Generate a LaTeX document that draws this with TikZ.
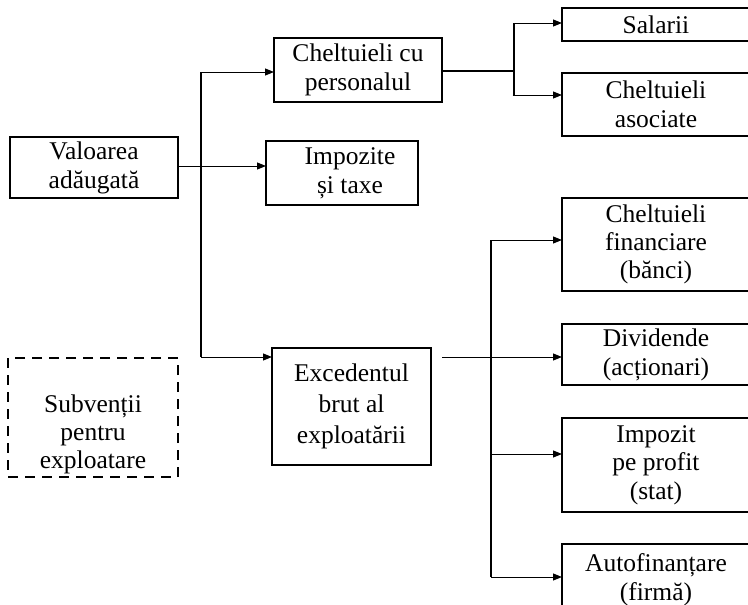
\documentclass[tikz,border=0pt]{standalone}
\usepackage{fontspec}
\setmainfont{Liberation Serif}
\usetikzlibrary{arrows.meta}
\begin{document}
\begin{tikzpicture}[x=1pt,y=-1pt,
  txt/.style={inner sep=0pt, outer sep=0pt, align=center, font=\fontsize{25.5}{29}\selectfont},
  box/.style={txt, draw, line width=1.8pt},
  dbox/.style={draw, line width=1.6pt, dash pattern=on 10pt off 7pt, inner sep=0pt, outer sep=0pt},
  conn/.style={line width=1pt},
  thick conn/.style={line width=1.6pt},
  arr/.style={line width=1pt, -{Triangle[length=9pt,width=7pt]}},
]
\useasboundingbox (0,0) rectangle (748,605);
\clip (0,0) rectangle (748,605);

% boxes
\node[box, minimum width=168pt, minimum height=61pt] (val) at (94,167.5) {Valoarea\\adăugată};
\node[box, minimum width=168pt, minimum height=64pt] (chp) at (358,70) {Cheltuieli cu\\personalul};
\node[box, minimum width=152pt, minimum height=64pt] (imp) at (342,173) {\hspace*{16pt}Impozite\\\hspace*{16pt}și taxe};
\node[box, minimum width=159pt, minimum height=117pt, font=\fontsize{25.5}{31}\selectfont] (exc) at (351.5,406.5) {Excedentul\\brut al\\exploatării};

\node[box, minimum width=188pt, minimum height=33pt] (sal) at (656,24.5) {Salarii};
\node[box, minimum width=188pt, minimum height=63pt] (asoc) at (656,104.5) {Cheltuieli\\asociate};
\node[box, minimum width=188pt, minimum height=93pt, font=\fontsize{25.5}{28}\selectfont] (fin) at (656,244.5) {Cheltuieli\\financiare\\(bănci)};
\node[box, minimum width=188pt, minimum height=61pt] (div) at (656,354.5) {Dividende\\(acționari)};
\node[box, minimum width=188pt, minimum height=94pt, font=\fontsize{25.5}{28.5}\selectfont] (ipp) at (656,465) {Impozit\\pe profit\\(stat)};
\node[box, minimum width=188pt, minimum height=72pt] (auto) at (656,580) {Autofinanțare\\(firmă)};

\node[dbox, minimum width=170pt, minimum height=119pt] (sub) at (93,417.5) {};
\node[txt, font=\fontsize{25.5}{28}\selectfont] (subt) at (93,434) {Subvenții\\pentru\\exploatare};

% connectors from Valoarea
\coordinate (v1) at (201,72);
\coordinate (v2) at (201,357);
\draw[thick conn] (v1) -- (v2);
\draw[arr] (v1) -- (v1 -| chp.west);
\draw[arr] (v2) -- (v2 -| exc.west);
\draw[arr] (val.east |- 0,166) -- (imp.west |- 0,166);

% personal branch
\coordinate (p1) at (514,23);
\coordinate (p2) at (514,95);
\draw[thick conn] (chp.east |- 0,71) -- (p1 |- 0,71);
\draw[thick conn] (p1) -- (p2);
\draw[arr] (p1) -- (p1 -| sal.west);
\draw[arr] ([xshift=-1.5pt]p2) -- (p2 -| asoc.west);

% excedent branch
\coordinate (e0) at (442,357);
\coordinate (e1) at (491,240);
\coordinate (e2) at (491,577);
\draw[thick conn] (e1) -- (e2);
\draw[arr] (e0) -- (e0 -| div.west);
\draw[arr] (e1) -- (e1 -| fin.west);
\draw[arr] (e1 |- 0,454) -- (ipp.west |- 0,454);
\draw[arr] (e2) -- (e2 -| auto.west);
\end{tikzpicture}
\end{document}
